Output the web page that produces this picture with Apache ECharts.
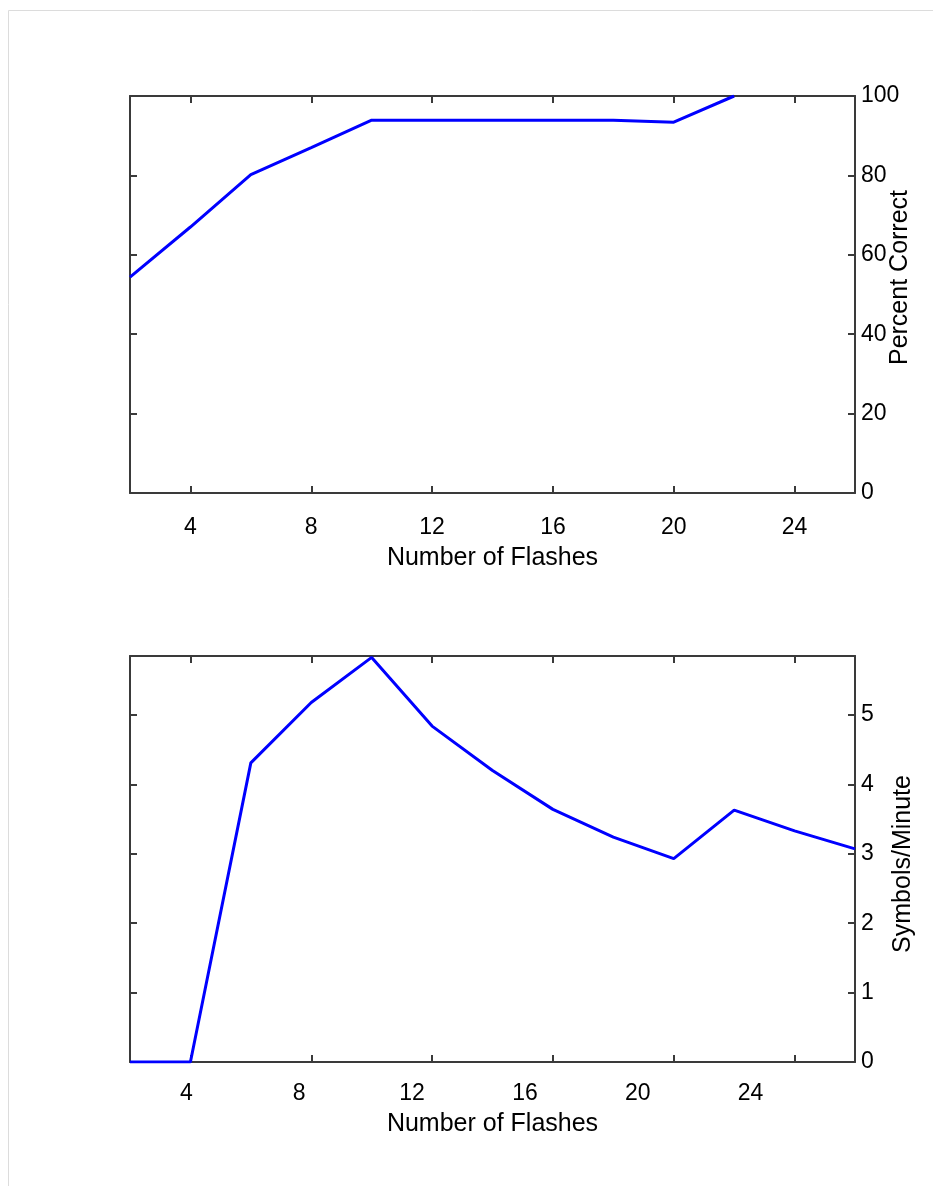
<!DOCTYPE html>
<html>
<head>
<meta charset="utf-8">
<script src="https://cdn.jsdelivr.net/npm/echarts@6/dist/echarts.min.js"></script>
<style>
  html, body { margin: 0; padding: 0; background: #fff; }
  #chart { width: 933px; height: 1186px; }
</style>
</head>
<body>
<div id="chart"></div>
<script>
// top panel: accuracy vs number of flashes
var flashesTop = [2, 4, 6, 8, 10, 12, 14, 16, 18, 20, 22];
var percentCorrect = [54.4, 67, 80.2, 87, 93.9, 93.9, 93.9, 93.9, 93.9, 93.4, 100];

// bottom panel: bit rate vs number of flashes
var flashesBottom = [2, 4, 6, 8, 10, 12, 14, 16, 18, 20, 22, 24, 26];
var symbolsPerMinute = [0, 0, 4.31, 5.18, 5.83, 4.84, 4.2, 3.64, 3.24, 2.93, 3.63, 3.33, 3.07];

// tick values
var xTicks = [4, 8, 12, 16, 20, 24];
var topYTicks = [0, 20, 40, 60, 80, 100];
var bottomYTicks = [0, 1, 2, 3, 4, 5];

var axisColor = '#3a3a3a';
var fontFamily = '"Liberation Sans", Arial, sans-serif';

function pairs(xs, ys) {
    var out = [];
    for (var i = 0; i < xs.length; i++) out.push([xs[i], ys[i]]);
    return out;
}

// plain tick-only axis (box sides)
function tickAxis(grid, pos, min, max, ticks) {
    return {
        type: 'value', gridIndex: grid, position: pos, min: min, max: max,
        splitLine: { show: false },
        axisLine: { show: true, onZero: false, lineStyle: { color: axisColor, width: 2 } },
        axisTick: { show: true, inside: true, length: 7, customValues: ticks,
                    lineStyle: { color: axisColor, width: 2 } },
        axisLabel: { show: false }
    };
}

var labelStyle = { color: '#000', fontSize: 23, fontFamily: fontFamily };
var nameStyle = { color: '#000', fontSize: 25, fontFamily: fontFamily };

var xAxes = [];
var yAxes = [];

// grid 0
var x0 = tickAxis(0, 'bottom', 2, 26, xTicks);
x0.axisLabel = Object.assign({ show: true, margin: 23, customValues: xTicks }, labelStyle);
x0.name = 'Number of Flashes';
x0.nameLocation = 'middle';
x0.nameGap = 53;
x0.nameTextStyle = nameStyle;
xAxes.push(x0);
xAxes.push(tickAxis(0, 'top', 2, 26, xTicks));

var y0 = tickAxis(0, 'right', 0, 100, topYTicks);
y0.axisLabel = Object.assign({ show: true, margin: 6, customValues: topYTicks }, labelStyle);
y0.name = 'Percent Correct';
y0.nameLocation = 'middle';
y0.nameGap = 33;
y0.nameRotate = 90;
y0.nameMoveOverlap = false;
y0.nameTextStyle = Object.assign({ padding: [0, 0, 0, 34] }, nameStyle);
yAxes.push(y0);
yAxes.push(tickAxis(0, 'left', 0, 100, topYTicks));

// grid 1
xAxes.push(tickAxis(1, 'bottom', 2, 26, xTicks));
xAxes.push(tickAxis(1, 'top', 2, 26, xTicks));
// the bottom panel's labels sit on a slightly wider scale than its ticks
xAxes.push({
    type: 'value', gridIndex: 1, position: 'bottom', min: 2, max: 27.7,
    splitLine: { show: false }, axisLine: { show: false, onZero: false }, axisTick: { show: false },
    axisLabel: Object.assign({ show: true, margin: 20, customValues: xTicks }, labelStyle),
    name: 'Number of Flashes', nameLocation: 'middle', nameGap: 50, nameTextStyle: nameStyle
});

var y1 = tickAxis(1, 'right', 0, 5.85, bottomYTicks);
y1.axisLabel = Object.assign({ show: true, margin: 6, customValues: bottomYTicks }, labelStyle);
y1.name = 'Symbols/Minute';
y1.nameLocation = 'middle';
y1.nameGap = 36;
y1.nameRotate = 90;
y1.nameMoveOverlap = false;
y1.nameTextStyle = Object.assign({ padding: [0, 10, 0, 0] }, nameStyle);
yAxes.push(y1);
yAxes.push(tickAxis(1, 'left', 0, 5.85, bottomYTicks));

var myChart = echarts.init(document.getElementById('chart'), null, { renderer: 'canvas' });
var option = {
    backgroundColor: '#fff',
    animation: false,
    graphic: [{
        type: 'rect', left: 6, top: 8, silent: true,
        shape: { width: 960, height: 1220 },
        style: { fill: 'none', stroke: '#dcdcdc', lineWidth: 1 }
    }],
    grid: [
        { left: 130, top: 96, width: 725, height: 397, outerBoundsMode: 'none' },
        { left: 130, top: 656, width: 725, height: 406, outerBoundsMode: 'none' }
    ],
    xAxis: xAxes,
    yAxis: yAxes,
    series: [
        {
            type: 'line', xAxisIndex: 0, yAxisIndex: 0,
            data: pairs(flashesTop, percentCorrect),
            showSymbol: false, lineStyle: { color: '#0000ff', width: 3 }
        },
        {
            type: 'line', xAxisIndex: 2, yAxisIndex: 2,
            data: pairs(flashesBottom, symbolsPerMinute),
            showSymbol: false, lineStyle: { color: '#0000ff', width: 3 }
        }
    ]
};
myChart.setOption(option);
</script>
</body>
</html>
